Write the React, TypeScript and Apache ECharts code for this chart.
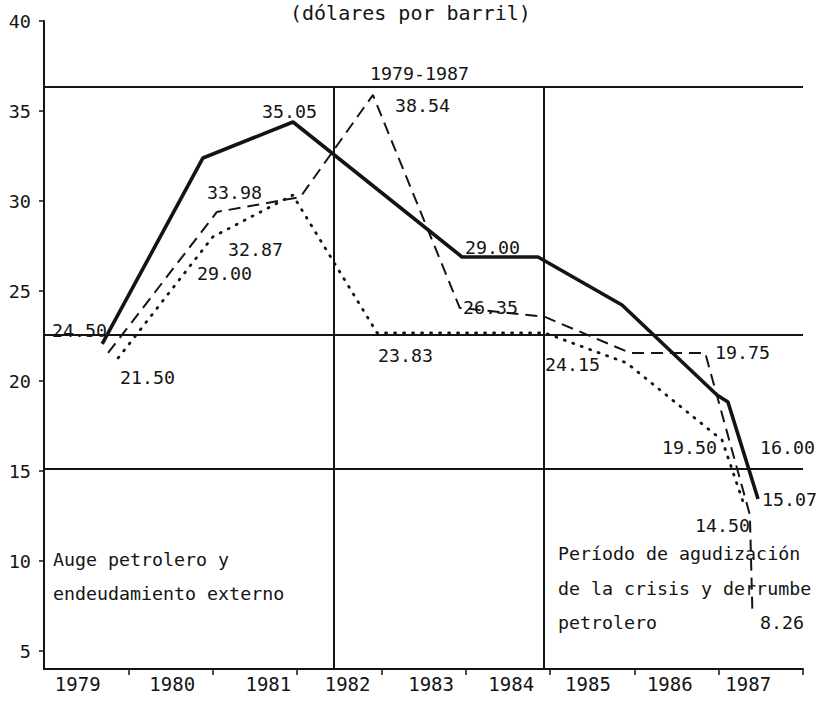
import React, { useEffect, useRef } from "react";
import * as echarts from "echarts";

// Years shown under the axis (one per band)
const YEARS = ["1979", "1980", "1981", "1982", "1983", "1984", "1985", "1986", "1987"];

// Line vertices (x in band units 0..9, y in dollars)
const SOLID_X = [0.69, 1.885, 2.953, 4.957, 5.858, 6.854, 7.98, 8.11, 8.467];
const SOLID_Y = [22.06, 32.39, 34.39, 26.89, 26.89, 24.22, 19.22, 18.83, 13.44];

const DASHED_X = [0.76, 2.05, 3.04, 3.9, 4.93, 5.94, 6.95, 7.84, 8.37, 8.4];
const DASHED_Y = [21.56, 29.39, 30.22, 35.89, 24.06, 23.56, 21.56, 21.56, 12.56, 7.17];

const DOTTED_X = [0.88, 2.0, 2.95, 3.95, 5.94, 6.91, 7.92, 8.04, 8.31];
const DOTTED_Y = [21.28, 28.0, 30.33, 22.67, 22.67, 21.0, 17.17, 16.72, 13.0];

// Reference lines
const H_LINES = [36.33, 22.56, 15.11];
const V_LINES = [3.43, 5.93];
const V_TOP = 36.33;

// Annotation texts and their anchor (data coords)
const NOTE_TEXT = [
  "35.05", "38.54", "1979-1987", "33.98", "32.87", "29.00", "24.50", "21.50", "23.83",
  "29.00", "26.35", "24.15", "19.75", "19.50", "16.00", "15.07", "14.50", "8.26",
  "Período de agudización", "de la crisis y derrumbe", "petrolero",
  "Auge petrolero y", "endeudamiento externo",
];
const NOTE_X = [
  2.585, 4.162, 3.866, 1.933, 2.182, 1.814, 0.095, 0.901, 3.961,
  4.992, 4.969, 5.941, 7.957, 7.328, 8.49, 8.514, 7.72, 8.49,
  6.095, 6.095, 6.095,
  0.107, 0.107,
];
const NOTE_Y = [
  35.0, 35.33, 37.11, 30.5, 27.28, 26.0, 22.83, 20.17, 21.44,
  27.44, 24.06, 20.89, 21.61, 16.28, 16.28, 13.39, 12.0, 6.61,
  10.44, 8.5, 6.56,
  10.06, 8.22,
];

const Y_TICKS = [5, 10, 15, 20, 25, 30, 35, 40];
const X_TICKS = [1, 2, 3, 4, 5, 6, 7, 8, 9];
const X_LABEL_POS = [0.4, 1.52, 2.66, 3.6, 4.59, 5.54, 6.45, 7.42, 8.35];

const FONT = "DejaVu Sans Mono";
const INK = "#141414";

const zip = (xs: number[], ys: number[]) => xs.map((x, i) => [x, ys[i]]);

export default function App() {
  const ref = useRef<HTMLDivElement>(null);
  useEffect(() => {
    if (!ref.current) return;
    const chart = echarts.init(ref.current, null, { renderer: "svg" });
    const markData: any[] = [];
    H_LINES.forEach((v) => markData.push([{ coord: [0, v] }, { coord: [9, v] }]));
    V_LINES.forEach((v) => markData.push([{ coord: [v, 4] }, { coord: [v, V_TOP] }]));
    chart.setOption({
      animation: false,
      backgroundColor: "#ffffff",
      grid: { left: 44, right: 13, top: 21, bottom: 42, containLabel: false, outerBoundsMode: "none" },
      graphic: [
        {
          type: "text",
          left: 290,
          top: 3,
          style: { text: "(dólares por barril)", font: `20px "${FONT}"`, fill: INK },
        },
      ],
      xAxis: {
        type: "value",
        min: 0,
        max: 9,
        axisLine: { show: true, lineStyle: { color: INK, width: 2 } },
        axisTick: { show: true, customValues: X_TICKS, length: 6, lineStyle: { color: INK, width: 1.5 } },
        axisLabel: {
          customValues: X_LABEL_POS,
          margin: 5,
          fontFamily: FONT,
          fontSize: 19,
          color: INK,
          formatter: (v: number) => {
            let best = 0;
            X_LABEL_POS.forEach((p, i) => {
              if (Math.abs(p - v) < Math.abs(X_LABEL_POS[best] - v)) best = i;
            });
            return YEARS[best];
          },
        },
        splitLine: { show: false },
      },
      yAxis: {
        type: "value",
        min: 4,
        max: 40,
        axisLine: { show: true, lineStyle: { color: INK, width: 2 } },
        axisTick: { show: true, customValues: Y_TICKS, length: 5, lineStyle: { color: INK, width: 1.5 } },
        axisLabel: {
          customValues: Y_TICKS,
          margin: 13,
          fontFamily: FONT,
          fontSize: 18.5,
          color: INK,
        },
        splitLine: { show: false },
      },
      series: [
        {
          type: "line",
          name: "refs",
          data: [],
          silent: true,
          markLine: {
            silent: true,
            symbol: ["none", "none"],
            label: { show: false },
            lineStyle: { color: INK, width: 2, type: "solid", opacity: 1 },
            data: markData,
          },
        },
        {
          type: "line",
          name: "solid",
          data: zip(SOLID_X, SOLID_Y),
          showSymbol: false,
          lineStyle: { color: INK, width: 3.6 },
          z: 5,
        },
        {
          type: "line",
          name: "dashed",
          data: zip(DASHED_X, DASHED_Y),
          showSymbol: false,
          lineStyle: { color: INK, width: 2, type: [12, 7] },
          z: 4,
        },
        {
          type: "line",
          name: "dotted",
          data: zip(DOTTED_X, DOTTED_Y),
          showSymbol: false,
          lineStyle: { color: INK, width: 2.8, type: [1, 8], cap: "round" },
          z: 4,
        },
        {
          type: "scatter",
          name: "notes",
          symbolSize: 0,
          silent: true,
          itemStyle: { opacity: 1, color: INK },
          data: NOTE_TEXT.map((t, i) => [NOTE_X[i], NOTE_Y[i], t]),
          label: {
            show: true,
            position: [0, 0],
            align: "left",
            verticalAlign: "middle",
            fontFamily: FONT,
            fontSize: 18.3,
            color: INK,
            opacity: 1,
            formatter: (p: any) => p.data[2],
          },
          z: 6,
        },
      ],
    });
    return () => chart.dispose();
  }, []);
  return (
    <div
      ref={ref}
      style={{ position: "fixed", left: 0, top: 0, width: 816, height: 711, background: "#fff" }}
    />
  );
}
